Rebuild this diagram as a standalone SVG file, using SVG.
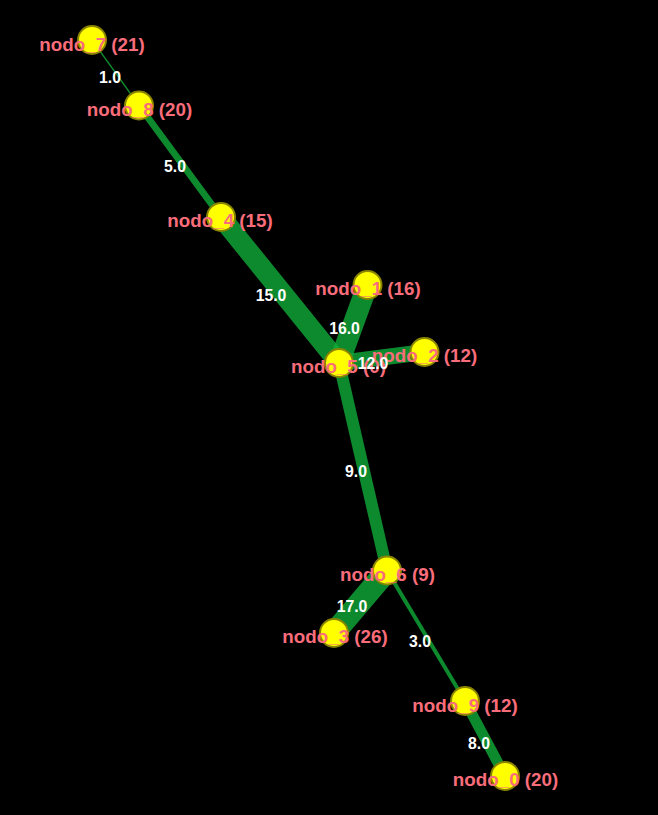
<svg xmlns="http://www.w3.org/2000/svg" width="658" height="815" viewBox="0 0 658 815">
<style>
.e{stroke:#11ad3a;stroke-opacity:0.8;stroke-linecap:butt;fill:none}
.n{fill:#ffff00;stroke:#8a8400;stroke-width:2}
.nl{font-family:"Liberation Sans",Arial,sans-serif;font-weight:bold;font-size:18.8px;fill:#f96d7b;text-anchor:middle}
.el{font-family:"Liberation Sans",Arial,sans-serif;font-weight:bold;font-size:15.8px;fill:#ffffff;text-anchor:middle}
</style>
<rect x="0" y="0" width="658" height="815" fill="#000000"/>
<g id="edges">
<line class="e" x1="92" y1="40" x2="139" y2="105.5" stroke-width="1.3"/>
<line class="e" x1="139" y1="105.5" x2="221" y2="217" stroke-width="6.7"/>
<line class="e" x1="221" y1="217" x2="339" y2="363" stroke-width="20"/>
<line class="e" x1="367.5" y1="285" x2="339" y2="363" stroke-width="21"/>
<line class="e" x1="339" y1="363" x2="424.5" y2="352" stroke-width="16"/>
<line class="e" x1="339" y1="363" x2="387" y2="570.5" stroke-width="12"/>
<line class="e" x1="387" y1="570.5" x2="334" y2="633" stroke-width="22.7"/>
<line class="e" x1="387" y1="570.5" x2="465" y2="701" stroke-width="4"/>
<line class="e" x1="465" y1="701" x2="505" y2="776" stroke-width="10.7"/>
</g>
<g id="node7"><circle class="n" cx="92" cy="40" r="14"/></g>
<g id="node8"><circle class="n" cx="139" cy="105.5" r="14"/></g>
<g id="node4"><circle class="n" cx="221" cy="217" r="14"/></g>
<g id="node1"><circle class="n" cx="367.5" cy="285" r="14"/></g>
<g id="node5"><circle class="n" cx="339" cy="363" r="14"/></g>
<g id="node2"><circle class="n" cx="424.5" cy="352" r="14"/></g>
<g id="node6"><circle class="n" cx="387" cy="570.5" r="14"/></g>
<g id="node3"><circle class="n" cx="334" cy="633" r="14"/></g>
<g id="node9"><circle class="n" cx="465" cy="701" r="14"/></g>
<g id="node0"><circle class="n" cx="505" cy="776" r="14"/></g>
<g id="node-labels">
<text class="nl" x="92" y="50.5">nodo_7 (21)</text>
<text class="nl" x="139.5" y="116">nodo_8 (20)</text>
<text class="nl" x="220" y="227">nodo_4 (15)</text>
<text class="nl" x="368" y="295">nodo_1 (16)</text>
<text class="nl" x="338.5" y="373">nodo_5 (0)</text>
<text class="nl" x="424.5" y="362">nodo_2 (12)</text>
<text class="nl" x="387.5" y="581">nodo_6 (9)</text>
<text class="nl" x="335" y="643">nodo_3 (26)</text>
<text class="nl" x="465" y="711.5">nodo_9 (12)</text>
<text class="nl" x="505.5" y="786">nodo_0 (20)</text>
</g>
<g id="edge-labels">
<text class="el" x="110" y="83">1.0</text>
<text class="el" x="175" y="172">5.0</text>
<text class="el" x="271" y="301">15.0</text>
<text class="el" x="344.5" y="334">16.0</text>
<text class="el" x="373" y="369">12.0</text>
<text class="el" x="356" y="477">9.0</text>
<text class="el" x="352" y="612">17.0</text>
<text class="el" x="420" y="647">3.0</text>
<text class="el" x="479" y="749">8.0</text>
</g>
</svg>
